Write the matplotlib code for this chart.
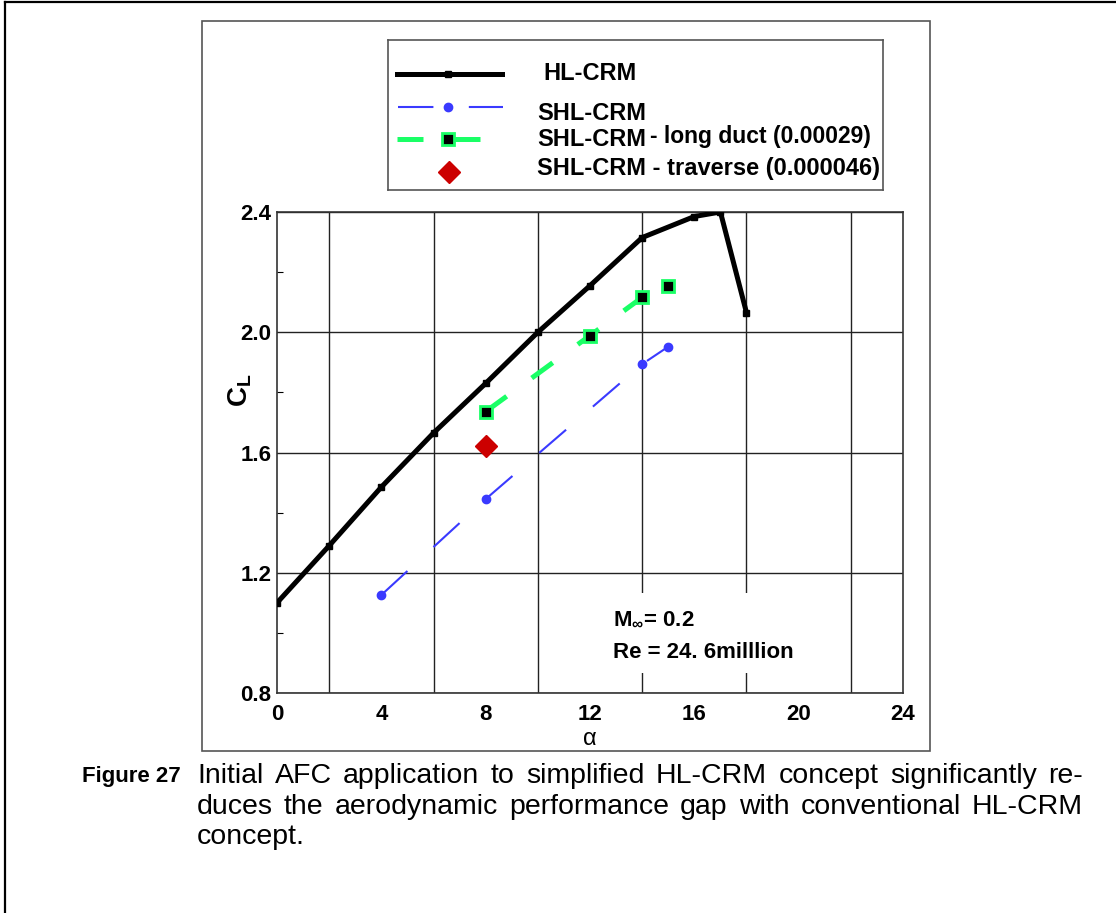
import matplotlib.pyplot as plt
from matplotlib.lines import Line2D
from matplotlib.patches import Rectangle

plt.rcParams['font.family'] = ['Liberation Sans', 'DejaVu Sans']
plt.rcParams['mathtext.fontset'] = 'custom'
plt.rcParams['mathtext.rm'] = 'Liberation Sans'
plt.rcParams['mathtext.bf'] = 'Liberation Sans:bold'

# lift curves, CL vs angle of attack
alpha_hl = [0, 2, 4, 6, 8, 10, 12, 14, 16, 17, 18]
cl_hl = [1.10, 1.29, 1.485, 1.665, 1.83, 2.00, 2.155, 2.315, 2.385, 2.40, 2.065]

alpha_shl = [4, 8, 14, 15]
cl_shl = [1.126, 1.445, 1.894, 1.952]

alpha_duct = [8, 12, 14, 15]
cl_duct = [1.736, 1.989, 2.116, 2.154]

alpha_trav = [8]
cl_trav = [1.622]

xticks = [0, 4, 8, 12, 16, 20, 24]
xgrid = list(range(0, 25, 2))
yticks = [0.8, 1.2, 1.6, 2.0, 2.4]
yminor = [1.0, 1.4, 1.8, 2.2]

labels = ['HL-CRM', 'SHL-CRM', 'SHL-CRM', 'SHL-CRM - traverse (0.000046)']

W, H = 1116, 913
fig = plt.figure(figsize=(W / 100, H / 100), dpi=100)

def fx(px):
    return px / W

def fy(py):
    return 1 - py / H

# page frame and chart panel
fig.add_artist(Line2D([fx(5), fx(5)], [0, fy(2)], color='black', lw=1.6))
fig.add_artist(Line2D([fx(5), 1], [fy(2), fy(2)], color='black', lw=1.6))
fig.add_artist(Rectangle((fx(202), fy(751)), fx(930) - fx(202), fy(21) - fy(751),
                         fill=False, ec='#555555', lw=1.2))

BLUE = '#3a3aff'
GREEN = '#1aff66'
RED = '#cc0000'

ax = fig.add_axes([fx(277), fy(693), fx(903) - fx(277), fy(212) - fy(693)])
ax.set_xlim(0, 24)
ax.set_ylim(0.8, 2.4)
ax.set_xticks(xticks)
ax.set_xticks(xgrid, minor=True)
ax.set_yticks(yticks)
ax.set_yticks(yminor, minor=True)
ax.grid(True, which='major', axis='y', color='#222222', lw=1.0)
ax.grid(True, which='minor', axis='x', color='#222222', lw=1.0)
ax.tick_params(which='major', length=0, labelsize=16, pad=4)
ax.tick_params(axis='x', which='major', pad=8)
ax.tick_params(axis='y', which='minor', direction='in', length=4, width=0.8)
ax.tick_params(axis='x', which='minor', length=0)
for lab in ax.get_xticklabels() + ax.get_yticklabels():
    lab.set_fontweight('bold')
for sp in ax.spines.values():
    sp.set_color('#333333')
    sp.set_linewidth(1.2)

ax.plot(alpha_hl, cl_hl, color='black', lw=3.6, marker='s', ms=4,
        solid_joinstyle='miter', zorder=4)
ax.plot(alpha_shl, cl_shl, color=BLUE, lw=1.5, dashes=(17, 17),
        marker='o', ms=6, zorder=5)
ax.plot(alpha_duct, cl_duct, color=GREEN, lw=3.6, dashes=(5.2, 6.2),
        marker='s', ms=8, mfc='black', mec=GREEN, mew=2, zorder=6)
ax.plot(alpha_trav, cl_trav, ls='none', marker='D', ms=11, color=RED, zorder=7)

# white box behind the flow conditions
ax.add_patch(Rectangle((12.6, 0.866), 8.9, 0.267, fc='white', ec='none', zorder=2.6))
ax.text(12.9, 1.045, r'$\mathbf{M_{\infty}}$= 0.2', fontsize=16, fontweight='bold',
        va='center', zorder=8)
ax.text(12.9, 0.935, 'Re = 24. 6milllion', fontsize=16, fontweight='bold',
        va='center', zorder=8)

ax.set_xlabel('α', fontsize=17, labelpad=2)
ax.set_ylabel(r'$\mathbf{C_L}$', fontsize=20)
ax.yaxis.set_label_coords(-0.037, 0.63)

# legend panel
lax = fig.add_axes([fx(388), fy(190), fx(883) - fx(388), fy(40) - fy(190)])
lax.set_xlim(388, 883)
lax.set_ylim(190, 40)
lax.set_xticks([])
lax.set_yticks([])
for sp in lax.spines.values():
    sp.set_color('#555555')
    sp.set_linewidth(1.2)

lax.plot([397, 448, 502], [74, 74, 74], color='black', lw=3.6,
         marker='s', ms=4, markevery=[1])
lax.plot([398, 448, 503], [107, 107, 107], color=BLUE, lw=1.5, dashes=(17, 17),
         marker='o', ms=6, markevery=[1])
lax.plot([397, 448, 481], [139, 139, 139], color=GREEN, lw=3.6, dashes=(5.2, 6.2),
         marker='s', ms=8, mfc='black', mec=GREEN, mew=2, markevery=[1])
lax.plot([449], [172], ls='none', marker='D', ms=11, color=RED)

lax.text(543, 74, labels[0], fontsize=17, fontweight='bold', va='center')
lax.text(537, 113, labels[1], fontsize=17, fontweight='bold', va='center')
lax.text(537, 140, labels[2], fontsize=17, fontweight='bold', va='center')
lax.text(650, 137, '- long duct (0.00029)', fontsize=16.5, fontweight='bold', va='center')
lax.text(537, 169, labels[3], fontsize=17, fontweight='bold', va='center')

# caption, justified between x=197 and x=1083
fig.text(fx(82), fy(776), 'Figure 27', fontsize=16, fontweight='bold', va='center')
caption = ['Initial AFC application to simplified HL-CRM concept significantly re-',
           'duces the aerodynamic performance gap with conventional HL-CRM',
           'concept.']
renderer = fig.canvas.get_renderer()
for k, line in enumerate(caption):
    y = fy(776 + 30.5 * k)
    words = line.split(' ')
    texts = [fig.text(0, y, w, fontsize=20.5, va='center') for w in words]
    widths = [t.get_window_extent(renderer).width for t in texts]
    if k < len(caption) - 1:
        gap = (1083 - 197 - sum(widths)) / (len(words) - 1)
    else:
        gap = 0.278 * 20.5 * 100 / 72
    x = 197
    for t, w in zip(texts, widths):
        t.set_x(fx(x))
        x += w + gap

fig.savefig('out.png', dpi=100)
